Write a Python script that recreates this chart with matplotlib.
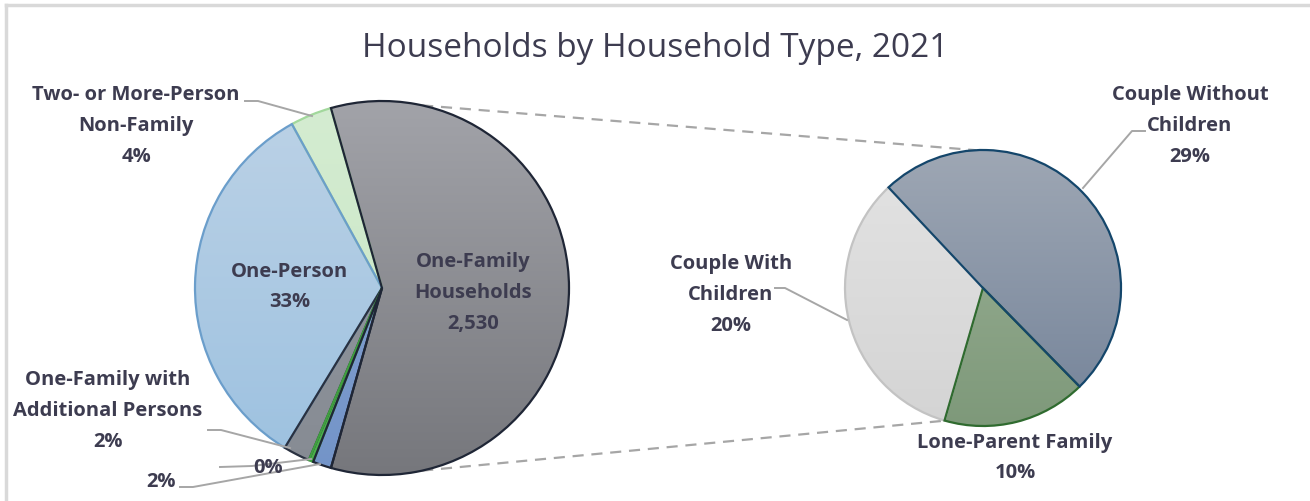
import numpy as np
import matplotlib.pyplot as plt
from matplotlib.colors import LinearSegmentedColormap

plt.rcParams['font.family'] = ['Open Sans', 'DejaVu Sans']

# data (share of all households, %)
family_labels = ['Couple Without\nChildren', 'Lone-Parent Family', 'Couple With\nChildren']
family_values = [29.2, 9.9, 19.7]
one_family_count = 2530

main_labels = ['One-Family\nHouseholds', '', '', 'One-Family with\nAdditional Persons',
               'One-Person', 'Two- or More-Person\nNon-Family']
main_values = [sum(family_values), 1.6, 0.4, 2.3, 33.3, 3.6]

W, H = 1310, 501
TXT = '#3d3c50'
LINE = '#a6a6a6'


def Y(y):
    # image pixel row -> data y
    return H - y


fig = plt.figure(figsize=(W / 100, H / 100), dpi=100)
ax = fig.add_axes([0, 0, 1, 1])

c1, r1 = (382, Y(288)), 187
c2, r2 = (983, Y(288)), 138

# left pie: aggregated slice centred facing the right pie
start1 = main_values[0] / 100 * 180
w1, _ = ax.pie(main_values, center=c1, radius=r1, startangle=start1,
               counterclock=False, wedgeprops=dict(linewidth=1.6))
w2, _ = ax.pie(family_values, center=c2, radius=r2, startangle=133.2,
               counterclock=False, wedgeprops=dict(linewidth=1.6))

# (top colour, bottom colour, edge colour, edge zorder)
main_styles = [('#a2a3a9', '#76777c', '#1f2636', 2.6),
               ('#8aa6d4', '#7394c8', '#1f2636', 2.5),
               ('#4cb04c', '#4cb04c', '#3fa03f', 2.4),
               ('#959aa2', '#868b93', '#2a3140', 2.3),
               ('#bcd2e6', '#9cc1e0', '#6b9ecb', 2.2),
               ('#d4ecd1', '#c8e6c4', '#a2d89c', 2.1)]
family_styles = [('#9ea7b4', '#748399', '#14466b', 2.6),
                 ('#9db298', '#7e997a', '#2f6b2f', 2.4),
                 ('#e3e3e3', '#d4d4d4', '#c3c3c3', 2.2)]


def fill_gradient(wedges, styles, center, r):
    x0, x1 = center[0] - r, center[0] + r
    y0, y1 = center[1] - r, center[1] + r
    grad = np.linspace(0, 1, 256).reshape(-1, 1)
    for w, (top, bot, edge, z) in zip(wedges, styles):
        cmap = LinearSegmentedColormap.from_list('g', [bot, top])
        im = ax.imshow(grad, extent=[x0, x1, y0, y1], origin='lower', cmap=cmap,
                       aspect='auto', zorder=1, interpolation='bilinear')
        im.set_clip_path(w)
        w.set_facecolor('none')
        w.set_edgecolor(edge)
        w.set_zorder(z)


fill_gradient(w1, main_styles, c1, r1)
fill_gradient(w2, family_styles, c2, r2)


def on_circle(c, r, ang):
    a = np.deg2rad(ang)
    return c[0] + r * np.cos(a), c[1] + r * np.sin(a)


# series lines between the pies
for a1, a2 in [(77.6, 93.0), (-77.6, -106.0)]:
    p, q = on_circle(c1, r1, a1), on_circle(c2, r2, a2)
    ax.plot([p[0], q[0]], [p[1], q[1]], color=LINE, lw=1.6, ls=(0, (5, 3.5)), zorder=0)

# leader lines
leaders = [[(245, 101), (258, 101), (312, 116)],
           [(208, 430), (221, 430), (290, 448)],
           [(220, 467), (252, 466), (311, 459)],
           [(180, 487), (193, 487), (320, 464)],
           [(1083, 188), (1132, 131), (1145, 131)],
           [(775, 288), (785, 288), (847, 320)]]
for pts in leaders:
    xs = [p[0] for p in pts]
    ys = [Y(p[1]) for p in pts]
    ax.plot(xs, ys, color=LINE, lw=1.4, zorder=3)


def pct(v):
    return f'{round(v):.0f}%'


lab = dict(ha='center', va='center', fontsize=14.5, fontweight='bold', color=TXT,
           linespacing=1.72, zorder=4)
ax.text(136, Y(126), f'{main_labels[5]}\n{pct(main_values[5])}', **lab)
ax.text(290, Y(287), f'{main_labels[4]}\n{pct(main_values[4])}', **lab)
ax.text(473, Y(293), f'{main_labels[0]}\n{one_family_count:,}', **lab)
ax.text(108, Y(411), f'{main_labels[3]}\n{pct(main_values[3])}', **lab)
ax.text(268, Y(468), pct(main_values[2]), **lab)
ax.text(161, Y(482), pct(main_values[1]), **lab)
ax.text(1190, Y(126), f'{family_labels[0]}\n{pct(family_values[0])}', **lab)
ax.text(731, Y(295), f'{family_labels[2]}\n{pct(family_values[2])}', **lab)
ax.text(1015, Y(458), f'{family_labels[1]}\n{pct(family_values[1])}', **lab)

ax.text(655, Y(48), 'Households by Household Type, 2021', ha='center', va='center',
        fontsize=24, color=TXT)

# chart frame (top and left edges visible)
ax.plot([6, W], [Y(5), Y(5)], color='#d9d9d9', lw=2.5, zorder=5)
ax.plot([6, 6], [Y(5), 0], color='#d9d9d9', lw=2.5, zorder=5)

ax.set_xlim(0, W)
ax.set_ylim(0, H)
ax.set_aspect('auto')
ax.axis('off')

fig.savefig('out.png', dpi=100, facecolor='white')
